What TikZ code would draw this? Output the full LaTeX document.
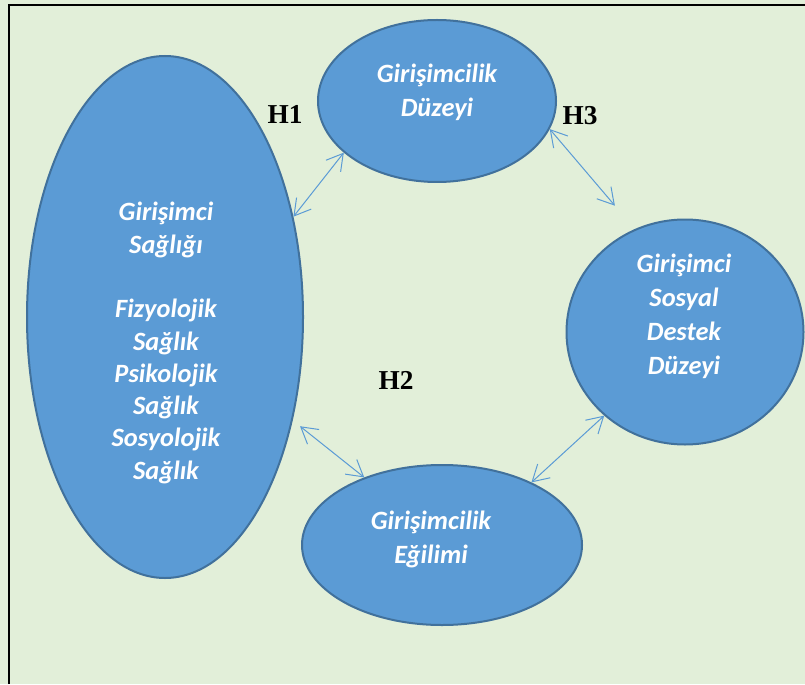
\documentclass[tikz,border=0pt]{standalone}
\usepackage{fontspec}
\setmainfont{Liberation Serif}
\newfontfamily\shapefont{Carlito}
\usetikzlibrary{shapes.geometric,arrows.meta}
\definecolor{bgc}{HTML}{E2EFD9}
\definecolor{fillc}{HTML}{5B9BD5}
\definecolor{edgec}{HTML}{41719C}
\tikzset{
  x=0.75pt, y=-0.75pt,
  bubble/.style={ellipse, draw=edgec, fill=fillc, line width=1.5pt, inner sep=0pt},
  btext/.style={text=white, font=\shapefont\bfseries\itshape\fontsize{19.8}{25.5}\selectfont, align=center},
  hlabel/.style={font=\bfseries\fontsize{20.5}{24}\selectfont, text=black},
  link/.style={draw=fillc, line width=0.75pt, {Straight Barb[length=12pt,width=14pt,line width=0.75pt]}-{Straight Barb[length=12pt,width=14pt,line width=0.75pt]}}
}
\begin{document}
\begin{tikzpicture}
\fill[bgc] (0,0) rectangle (805,684);
\useasboundingbox (0,0) rectangle (805,684);
\draw[black, line width=1.5pt] (9,684) -- (9,5) -- (805,5);

\node[bubble, minimum width=178.5pt, minimum height=121.5pt] (top) at (437,101) {};
\node[bubble, minimum width=207pt, minimum height=391.5pt] (left) at (165,317) {};
\node[bubble, minimum width=177.75pt, minimum height=168.75pt] (right) at (685,332) {};
\node[bubble, minimum width=210pt, minimum height=120pt] (bottom) at (442,545) {};

\node[btext] (topT) at (437,92) {Girişimcilik\\Düzeyi};
\node[btext, font=\shapefont\bfseries\itshape\fontsize{19.8}{24.2}\selectfont] (leftT) at (166,343) {Girişimci\\Sağlığı\\[24.2pt]Fizyolojik\\Sağlık\\Psikolojik\\Sağlık\\Sosyolojik\\Sağlık};
\node[btext] (rightT) at (684,316) {Girişimci\\Sosyal\\Destek\\Düzeyi};
\node[btext] (bottomT) at (431,539) {Girişimcilik\\Eğilimi};

\node[hlabel] (h1) at (285,114) {H1};
\node[hlabel] (h3) at (580,116) {H3};
\node[hlabel] (h2) at (396,380) {H2};

\draw[link] (top.209.5) -- (left.38);
\draw[link, shorten >=23pt] (top.346) -- (right.116);
\draw[link, shorten <=7pt] (left.321) -- (bottom.139.8);
\draw[link] (right.226) -- (bottom.35.5);
\end{tikzpicture}
\end{document}
